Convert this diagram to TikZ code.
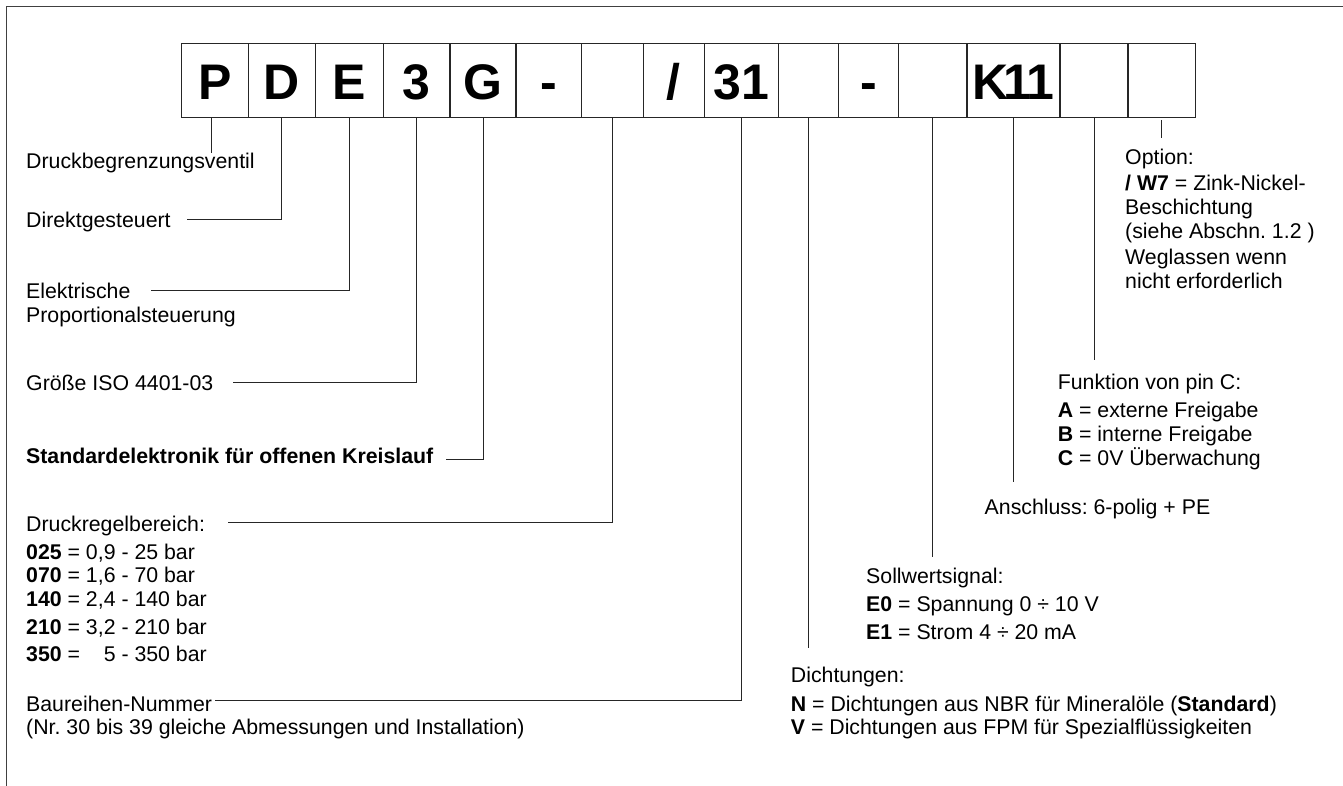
\documentclass[tikz,border=0pt]{standalone}
\usepackage{fontspec}
\setmainfont{Liberation Sans}
\frenchspacing
\begin{document}
\begin{tikzpicture}[x=1pt,y=-1pt,
  cell/.style={draw=black!85, line width=1.1pt, minimum height=74.4pt, inner sep=0pt, outer sep=0pt,
    text height=37pt, text depth=0pt, font=\fontsize{50}{50}\selectfont\bfseries},
  lbl/.style={anchor=base west, inner sep=0pt, font=\fontsize{21.3}{24}\selectfont\frenchspacing},
  lead/.style={draw=black!85, line width=0.9pt},
  frame/.style={draw=black!75, line width=1.6pt}]
\useasboundingbox (0,0) rectangle (1343,785);
\clip (0,0) rectangle (1343,785);
\draw[frame] (6.5,6.5) rectangle (1400,850);

% code boxes
\node[cell, minimum width=66.8pt] (bP)  at (214.9,80.5) {P};
\node[cell, minimum width=67pt]   (bD)  at (281.8,80.5) {D};
\node[cell, minimum width=68pt]   (bE)  at (349.3,80.5) {E};
\node[cell, minimum width=66.7pt] (b3)  at (416.65,80.5) {3};
\node[cell, minimum width=66pt]   (bG)  at (483,80.5) {G};
\node[cell, minimum width=65.7pt] (bH1) at (548.85,80.5) {-};
\node[cell, minimum width=61.6pt] (bR)  at (612.5,80.5) {};
\node[cell, minimum width=61.2pt] (bS)  at (673.9,80.5) {/};
\node[cell, minimum width=74pt]   (b31) at (741.5,80.5) {31};
\node[cell, minimum width=60pt]   (bN)  at (808.5,80.5) {};
\node[cell, minimum width=59.7pt] (bH2) at (868.35,80.5) {-};
\node[cell, minimum width=68.8pt] (bE0) at (932.6,80.5) {};
\node[cell, minimum width=93pt]   (bK)  at (1013.5,80.5) {K\kern-5pt1\kern-5pt1};
\node[cell, minimum width=68pt]   (bA)  at (1094,80.5) {};
\node[cell, minimum width=67.5pt] (bW)  at (1161.75,80.5) {};

% left labels
\node[lbl] (tP)  at (26,168)   {Druckbegrenzungsventil};
\node[lbl] (tD)  at (26,227.5) {Direktgesteuert};
\node[lbl] (tE1) at (26,298.5) {Elektrische};
\node[lbl] (tE2) at (26,322.5) {Proportionalsteuerung};
\node[lbl] (t3)  at (26,390)   {Größe ISO 4401-03};
\node[lbl] (tG)  at (26,463.5) {\bfseries Standardelektronik für offenen Kreislauf};
\node[lbl] (tR0) at (26,531)   {Druckregelbereich:};
\node[lbl] (tR1) at (26,559)   {\textbf{025} = 0,9 - 25 bar};
\node[lbl] (tR2) at (26,582.5) {\textbf{070} = 1,6 - 70 bar};
\node[lbl] (tR3) at (26,606.5) {\textbf{140} = 2,4 - 140 bar};
\node[lbl] (tR4) at (26,634)   {\textbf{210} = 3,2 - 210 bar};
\node[lbl] (tR5) at (26,661)   {\textbf{350} = \phantom{3,}5 - 350 bar};
\node[lbl] (tB1) at (26,711)   {Baureihen-Nummer};
\node[lbl] (tB2) at (26,734)   {(Nr. 30 bis 39 gleiche Abmessungen und Installation)};

% right labels
\node[lbl] (tN0) at (790.7,682.5) {Dichtungen:};
\node[lbl] (tN1) at (790.7,711)   {\textbf{N} = Dichtungen aus NBR für Mineralöle (\textbf{Standard})};
\node[lbl] (tN2) at (790.7,734)   {\textbf{V} = Dichtungen aus FPM für Spezialflüssigkeiten};
\node[lbl] (tS0) at (866,583)     {Sollwertsignal:};
\node[lbl] (tS1) at (866,611.5)   {\textbf{E0} = Spannung 0 ÷ 10 V};
\node[lbl] (tS2) at (866,639)     {\textbf{E1} = Strom 4 ÷ 20 mA};
\node[lbl] (tK)  at (984.5,514)   {Anschluss: 6-polig + PE};
\node[lbl] (tF0) at (1057.6,389)  {Funktion von pin C:};
\node[lbl] (tF1) at (1057.6,417)  {\textbf{A} = externe Freigabe};
\node[lbl] (tF2) at (1057.6,441)  {\textbf{B} = interne Freigabe};
\node[lbl] (tF3) at (1057.6,465)  {\textbf{C} = 0V Überwachung};
\node[lbl] (tO0) at (1125,164)    {Option:};
\node[lbl] (tO1) at (1125,190)    {\textbf{/ W7} = Zink-Nickel-};
\node[lbl] (tO2) at (1125,214)    {Beschichtung};
\node[lbl] (tO3) at (1125,238.5)  {(siehe Abschn. 1.2 )};
\node[lbl] (tO4) at (1125,264)    {Weglassen wenn};
\node[lbl] (tO5) at (1125,288.5)  {nicht erforderlich};

% leader ends
\coordinate (eP)  at (211,153);
\coordinate (eD)  at (186.5,219.3);
\coordinate (eE)  at (151,290.7);
\coordinate (e3)  at (233,382.3);
\coordinate (eG)  at (446,459);
\coordinate (eR)  at (228,522.7);
\coordinate (e31) at (215,700);
\coordinate (eN)  at (808.5,647.7);
\coordinate (eE0) at (932.6,557.3);
\coordinate (eK)  at (1013.5,481.7);
\coordinate (eA)  at (1094,360);
\coordinate (eW)  at (1161.75,138);

% connectors
\draw[lead] (eP |- bP.south) -- (eP);
\draw[lead] (bD.south) |- (eD);
\draw[lead] (bE.south) |- (eE);
\draw[lead] (b3.south) |- (e3);
\draw[lead] (bG.south) |- (eG);
\draw[lead] (bR.south) |- (eR);
\draw[lead] (b31.south) |- (e31);
\draw[lead] (bN.south) -- (eN);
\draw[lead] (bE0.south) -- (eE0);
\draw[lead] (bK.south) -- (eK);
\draw[lead] (bA.south) -- (eA);
\draw[lead] ([yshift=-2.5pt]bW.south) -- (eW);
\end{tikzpicture}
\end{document}
